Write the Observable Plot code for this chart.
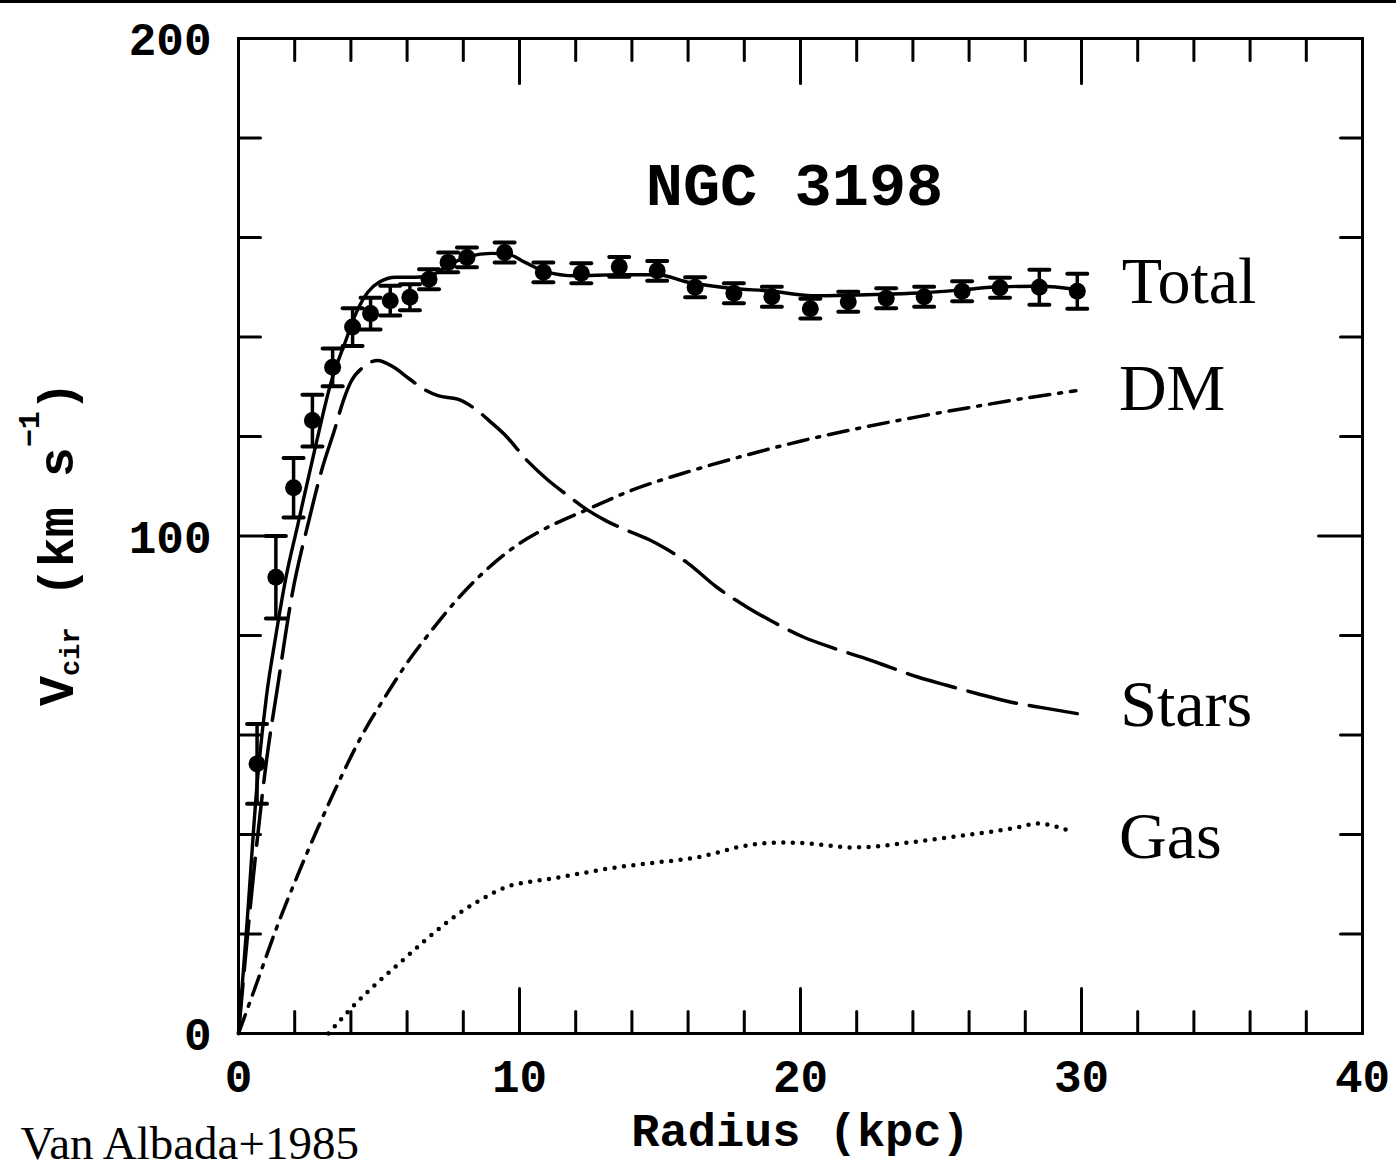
<!DOCTYPE html>
<html>
<head>
<meta charset="utf-8">
<script src="https://cdn.jsdelivr.net/npm/d3@7"></script>
<script src="https://cdn.jsdelivr.net/npm/@observablehq/plot@0.6"></script>
<style>
  html, body { margin: 0; padding: 0; background: #fff; }
  #wrap { position: relative; width: 1396px; height: 1172px; overflow: hidden; }
  #topbar { position: absolute; left: 0; top: 0; width: 1396px; height: 3px; background: #000; }
</style>
</head>
<body>
<div id="wrap"><div id="chart"></div><div id="topbar"></div></div>
<script>
// ---------- data ----------
const obsR   = [0.66, 1.33, 1.96, 2.63, 3.35, 4.06, 4.70, 5.40, 6.10, 6.78, 7.46, 8.13, 9.47, 10.85, 12.20, 13.55, 14.90, 16.25, 17.63, 18.98, 20.35, 21.70, 23.05, 24.40, 25.75, 27.10, 28.50, 29.85];
const obsV   = [54.2, 91.7, 109.7, 123.2, 133.9, 142.0, 144.7, 147.3, 148.0, 151.6, 155.0, 156.0, 157.0, 153.0, 152.8, 154.1, 153.3, 150.0, 148.8, 148.1, 145.7, 147.1, 147.8, 148.1, 149.2, 149.9, 150.0, 149.2];
const obsErr = [8.0, 8.3, 6.0, 5.2, 3.8, 3.8, 3.2, 3.0, 2.6, 2.0, 2.0, 2.0, 2.0, 2.0, 2.0, 2.0, 2.0, 2.0, 2.0, 2.0, 2.0, 2.0, 2.0, 2.0, 2.0, 2.0, 3.5, 3.5];

const totalR = [0, 0.3, 0.66, 1.0, 1.3, 1.7, 2.1, 2.7, 3.3, 3.8, 4.2, 4.6, 5.0, 5.6, 6.3, 6.9, 7.5, 8.2, 9.0, 9.6, 10.2, 10.9, 12.0, 13.5, 14.9, 16.0, 17.5, 19.0, 20.4, 21.7, 23.0, 24.4, 25.8, 27.1, 28.5, 29.9];
const totalV = [0, 22, 50, 68, 79, 92, 102, 117, 131, 139, 145, 149, 151, 152, 152, 152.5, 154.5, 156.2, 156.8, 156.6, 155, 153.2, 152.3, 152.5, 152.5, 151, 149.8, 149.2, 148.3, 148.4, 148.6, 148.9, 149.5, 150.1, 150.2, 149.5];

const starsR = [0, 0.5, 1.0, 1.4, 1.9, 2.5, 3.0, 3.4, 3.75, 4.0, 4.45, 4.95, 5.5, 6.1, 6.6, 7.1, 7.8, 8.36, 9.0, 9.45, 10.3, 11.0, 11.7, 12.4, 13.1, 13.8, 14.6, 15.2, 16.0, 17.0, 18.1, 19.1, 20.1, 21.1, 22.2, 23.2, 24.2, 25.2, 26.3, 27.5, 28.7, 29.85];
const starsV = [0, 30, 55, 70, 88, 103, 114, 121, 127.5, 131, 134, 135.3, 134, 131.5, 129.5, 128.2, 127.5, 125.8, 122.8, 120.5, 115, 111.3, 108.2, 105.3, 103, 101.2, 99.3, 97.5, 94.5, 89.8, 85.7, 82.5, 79.7, 77.6, 75.6, 73.6, 71.6, 70, 68.3, 66.6, 65.4, 64.3];

const dmR = [0, 0.66, 1.32, 2.03, 2.8, 3.63, 4.4, 5.2, 6.0, 6.8, 7.9, 9.1, 10.0, 10.75, 12.4, 14.0, 16.05, 18.1, 20.1, 22.2, 24.2, 26.3, 28.0, 29.8];
const dmV = [0, 10.3, 20.7, 30.8, 41, 51.3, 60, 67.5, 74.5, 80.5, 88, 94.6, 98.5, 101, 105.3, 109.2, 113, 116.3, 119.2, 121.8, 124, 126.1, 127.7, 129.2];

const gasR = [3.2, 4.0, 4.9, 5.84, 6.7, 7.5, 8.56, 9.65, 10.5, 11.3, 12.2, 13.1, 14.0, 14.9, 15.7, 16.4, 17.0, 17.65, 18.5, 19.3, 20.0, 20.8, 21.8, 22.7, 23.6, 24.7, 25.8, 26.7, 27.6, 28.5, 29.1, 29.7];
const gasV = [0, 5, 10, 14.7, 19, 22.7, 26.7, 29.7, 30.6, 31.3, 32.2, 33.1, 33.8, 34.4, 34.9, 35.5, 36.3, 37.3, 38.1, 38.4, 38.3, 37.9, 37.4, 37.6, 38.2, 39, 39.8, 40.5, 41.3, 42.2, 41.6, 40.4];

const xMajorTicks = [0, 10, 20, 30, 40];
const xInnerMajor = [10, 20, 30];
const xMinorTicks = [2, 4, 6, 8, 12, 14, 16, 18, 22, 24, 26, 28, 32, 34, 36, 38];
const yMajorTicks = [0, 100, 200];
const yInnerMajor = [100];
const yMinorTicks = [20, 40, 60, 80, 120, 140, 160, 180];

const title = "NGC 3198";
const xLabel = "Radius (kpc)";
const yLabel = "Vcir (km s-1)";
const credit = "Van Albada+1985";
const seriesNames = ["Total", "DM", "Stars", "Gas"];

// ---------- build tables ----------
const zip = (R, V) => R.map((r, i) => ({r, v: V[i]}));
const obs = obsR.map((r, i) => ({r, v: obsV[i], e: obsErr[i]}));
const total = zip(totalR, totalV);
const stars = zip(starsR, starsV);
const dm = zip(dmR, dmV);
const gas = zip(gasR, gasV);
const lastOf = (arr) => [arr[arr.length - 1]];

// ---------- tick shapes ----------
const up = {draw(c, l) { c.moveTo(0, 0); c.lineTo(0, -l); }};
const down = {draw(c, l) { c.moveTo(0, 0); c.lineTo(0, l); }};
const toRight = {draw(c, l) { c.moveTo(0, 0); c.lineTo(l, 0); }};
const toLeft = {draw(c, l) { c.moveTo(0, 0); c.lineTo(-l, 0); }};
const hcap = {draw(c, l) { c.moveTo(-l / 2, 0); c.lineTo(l / 2, 0); }};

const mono = "'Liberation Mono', 'Courier New', monospace";
const serif = "'Liberation Serif', 'Times New Roman', serif";
const tk = {stroke: "black", strokeWidth: 3, anchor: "start"};

const chart = Plot.plot({
  width: 1396,
  height: 1172,
  marginLeft: 238,
  marginRight: 34,
  marginTop: 38,
  marginBottom: 139,
  x: {domain: [0, 40], axis: null},
  y: {domain: [0, 200], axis: null},
  style: {background: "white"},
  marks: [
    // model curves
    Plot.line(gas, {x: "r", y: "v", stroke: "black", strokeWidth: 4.5, strokeDasharray: "0 9.5", strokeLinecap: "round", curve: "monotone-x"}),
    Plot.line(dm, {x: "r", y: "v", stroke: "black", strokeWidth: 3.5, strokeDasharray: "20 9 3 9", curve: "monotone-x"}),
    Plot.line(stars, {x: "r", y: "v", stroke: "black", strokeWidth: 3.5, strokeDasharray: "50 13", curve: "monotone-x"}),
    Plot.line(total, {x: "r", y: "v", stroke: "black", strokeWidth: 3.4, curve: "monotone-x"}),
    // observations with error bars
    Plot.ruleX(obs, {x: "r", y1: d => d.v - d.e, y2: d => d.v + d.e, stroke: "black", strokeWidth: 3.5}),
    Plot.vector(obs, {x: "r", y: d => d.v + d.e, length: 20, shape: hcap, anchor: "start", stroke: "black", strokeWidth: 4}),
    Plot.vector(obs, {x: "r", y: d => d.v - d.e, length: 20, shape: hcap, anchor: "start", stroke: "black", strokeWidth: 4}),
    Plot.dot(obs, {x: "r", y: "v", r: 8.5, fill: "black"}),
    // frame and inward ticks
    Plot.frame({stroke: "black", strokeWidth: 3}),
    Plot.vector(xMinorTicks, {x: d => d, frameAnchor: "bottom", length: 22, shape: up, ...tk}),
    Plot.vector(xInnerMajor, {x: d => d, frameAnchor: "bottom", length: 45, shape: up, ...tk}),
    Plot.vector(xMinorTicks, {x: d => d, frameAnchor: "top", length: 22, shape: down, ...tk}),
    Plot.vector(xInnerMajor, {x: d => d, frameAnchor: "top", length: 45, shape: down, ...tk}),
    Plot.vector(yMinorTicks, {y: d => d, frameAnchor: "left", length: 22, shape: toRight, ...tk}),
    Plot.vector(yInnerMajor, {y: d => d, frameAnchor: "left", length: 44, shape: toRight, ...tk}),
    Plot.vector(yMinorTicks, {y: d => d, frameAnchor: "right", length: 22, shape: toLeft, ...tk}),
    Plot.vector(yInnerMajor, {y: d => d, frameAnchor: "right", length: 44, shape: toLeft, ...tk}),
    // tick labels
    Plot.text(xMajorTicks, {x: d => d, text: d => String(d), frameAnchor: "bottom", dy: 44, lineAnchor: "middle", fontFamily: mono, fontWeight: "bold", fontSize: 46, fill: "black"}),
    Plot.text(yMajorTicks, {y: d => d, text: d => String(d), frameAnchor: "left", dx: -27, dy: 2, textAnchor: "end", lineAnchor: "middle", fontFamily: mono, fontWeight: "bold", fontSize: 46, fill: "black"}),
    // axis labels and title
    Plot.text([xLabel], {frameAnchor: "bottom", dy: 97, lineAnchor: "middle", fontFamily: mono, fontWeight: "bold", fontSize: 47, fill: "black"}),
    Plot.text([yLabel], {frameAnchor: "left", dx: -166, dy: 170, rotate: -90, textAnchor: "start", lineAnchor: "bottom", fontFamily: mono, fontWeight: "bold", fontSize: 50, fill: "black"}),
    Plot.text([title], {frameAnchor: "top", dx: -6, dy: 147, lineAnchor: "middle", fontFamily: mono, fontWeight: "bold", fontSize: 62, fill: "black"}),
    // series labels
    Plot.text(lastOf(total), {x: "r", y: "v", text: () => seriesNames[0], dx: 43, dy: -8, textAnchor: "start", lineAnchor: "middle", fontFamily: serif, fontSize: 66, fill: "black"}),
    Plot.text(lastOf(dm), {x: "r", y: "v", text: () => seriesNames[1], dx: 43, dy: -2, textAnchor: "start", lineAnchor: "middle", fontFamily: serif, fontSize: 66, fill: "black"}),
    Plot.text(lastOf(stars), {x: "r", y: "v", text: () => seriesNames[2], dx: 43, dy: -9, textAnchor: "start", lineAnchor: "middle", fontFamily: serif, fontSize: 66, fill: "black"}),
    Plot.text(lastOf(gas), {x: "r", y: "v", text: () => seriesNames[3], dx: 46, dy: 4, textAnchor: "start", lineAnchor: "middle", fontFamily: serif, fontSize: 66, fill: "black"}),
    // credit
    Plot.text([credit], {frameAnchor: "bottom-left", dx: -218, dy: 125, textAnchor: "start", lineAnchor: "bottom", fontFamily: serif, fontSize: 47, fill: "black"})
  ]
});

document.getElementById("chart").appendChild(chart);

// rich text for the y label: V_cir (km s^-1)
d3.select(chart).selectAll("text").filter(function() { return this.textContent === yLabel; }).each(function() {
  const t = d3.select(this);
  t.attr("text-anchor", "start");
  t.text(null);
  t.append("tspan").text("V");
  t.append("tspan").attr("font-size", 27).attr("dy", 6).text("cir");
  t.append("tspan").attr("dy", -6).text(" (km s");
  t.append("tspan").attr("font-size", 30).attr("dy", -34).text("\u22121");
  t.append("tspan").attr("dy", 34).text(")");
});
</script>
</body>
</html>
